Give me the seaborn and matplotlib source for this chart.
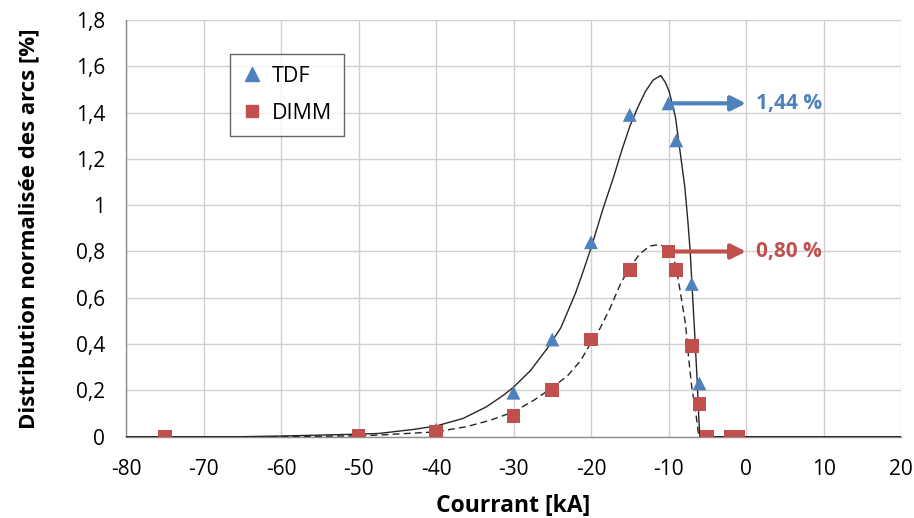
import matplotlib
matplotlib.use("Agg")
import matplotlib.pyplot as plt
from matplotlib.lines import Line2D
import seaborn as sns
import pandas as pd

# ---- data -------------------------------------------------------------
marker_x = [-75, -50, -40, -30, -25, -20, -15, -10, -9, -7, -6, -5, -2, -1]
tdf_y = [0, 0, 0.03, 0.19, 0.42, 0.84, 1.39, 1.44, 1.28, 0.66, 0.23, 0, 0, 0]
dimm_y = [0, 0.005, 0.02, 0.09, 0.20, 0.42, 0.72, 0.80, 0.72, 0.39, 0.14, 0, 0, 0]

tdf_curve_x = [-80, -70, -65, -60, -55, -50, -47.4, -43, -40, -36.5, -33.5, -31.3,
               -30, -27.8, -25.7, -23.9, -22, -21, -20, -18.4, -17.1, -16, -15,
               -14, -13, -12, -11, -10.4, -9.9, -9.1, -8.5, -7.9, -7.5, -7.2,
               -7.0, -6.64, -6.3, -6.1, -5.95, 0, 20]
tdf_curve_y = [0, 0, 0, 0.003, 0.007, 0.011, 0.014, 0.031, 0.046, 0.079, 0.129,
               0.179, 0.214, 0.286, 0.379, 0.47, 0.62, 0.715, 0.815, 0.99, 1.12,
               1.24, 1.34, 1.42, 1.49, 1.54, 1.56, 1.53, 1.49, 1.38, 1.23, 1.08,
               0.93, 0.80, 0.673, 0.458, 0.243, 0.086, 0, 0, 0]

dimm_curve_x = [-80, -70, -60, -55, -50, -47.4, -40, -36.1, -33, -30, -27.4, -25.2,
                -23, -21.3, -20, -18.8, -17.5, -16.2, -15, -13.7, -12.4, -11.1, -10,
                -9.1, -8.5, -7.8, -7.4, -7.0, -6.6, -6.3, -6.1, 0, 20]
dimm_curve_y = [0, 0, 0, 0.002, 0.004, 0.007, 0.021, 0.043, 0.071, 0.107, 0.157,
                0.207, 0.264, 0.33, 0.407, 0.47, 0.558, 0.66, 0.73, 0.79, 0.824,
                0.83, 0.81, 0.745, 0.63, 0.486, 0.34, 0.214, 0.13, 0.058, 0, 0, 0]

series = ["TDF", "DIMM"]
annot_values = [1.44, 0.80]
annot_labels = ["1,44 %", "0,80 %"]
annot_start_x = -10
annot_end_x = 0

x_ticks = list(range(-80, 21, 10))
y_ticks = [0, 0.2, 0.4, 0.6, 0.8, 1.0, 1.2, 1.4, 1.6, 1.8]
y_tick_labels = ["0", "0,2", "0,4", "0,6", "0,8", "1", "1,2", "1,4", "1,6", "1,8"]

# ---- style ------------------------------------------------------------
sns.set_theme(style="white")
plt.rcParams["font.family"] = ["Open Sans", "DejaVu Sans"]
plt.rcParams["text.color"] = "black"
plt.rcParams["axes.labelcolor"] = "black"

blue = "#4F81BD"
red = "#C0504D"

fig = plt.figure(figsize=(9.14, 5.18), dpi=100)
ax = fig.add_axes([126 / 914, 1 - 436.7 / 518, 775 / 914, 416.7 / 518])

curves = pd.DataFrame({"x": tdf_curve_x, "y": tdf_curve_y})
sns.lineplot(data=curves, x="x", y="y", ax=ax, color="#262626", lw=1.0,
             sort=False, estimator=None, zorder=3)
curves2 = pd.DataFrame({"x": dimm_curve_x, "y": dimm_curve_y})
sns.lineplot(data=curves2, x="x", y="y", ax=ax, color="#262626", lw=1.0,
             sort=False, estimator=None, zorder=3)
ax.lines[-1].set_linestyle((0, (5, 3)))

markers = pd.DataFrame({
    "x": marker_x + marker_x,
    "y": tdf_y + dimm_y,
    "serie": [series[0]] * len(marker_x) + [series[1]] * len(marker_x),
})
sns.scatterplot(data=markers, x="x", y="y", hue="serie", style="serie",
                markers={"TDF": "^", "DIMM": "s"}, palette={"TDF": blue, "DIMM": red},
                s=100, linewidth=0, ax=ax, zorder=4, legend=False)

# arrows and labels
for val, lab, col in zip(annot_values, annot_labels, [blue, red]):
    ax.annotate("", xy=(annot_end_x, val), xytext=(annot_start_x, val),
                arrowprops=dict(arrowstyle="-|>", color=col, lw=3,
                                mutation_scale=22, shrinkA=0, shrinkB=0),
                zorder=5)
    ax.text(annot_end_x + 1.3, val, lab, color=col, fontsize=15,
            fontweight="bold", ha="left", va="center")

# axes
ax.set_xlim(-80, 20)
ax.set_ylim(0, 1.8)
ax.set_xticks(x_ticks)
ax.set_xticklabels([str(t) for t in x_ticks])
ax.set_yticks(y_ticks)
ax.set_yticklabels(y_tick_labels)
ax.grid(True, color="#d0d0d0", lw=1.0)
ax.set_axisbelow(True)
for s in ["top", "right"]:
    ax.spines[s].set_visible(False)
for s in ["left", "bottom"]:
    ax.spines[s].set_color("#8c8c8c")
    ax.spines[s].set_linewidth(1.0)
ax.tick_params(axis="both", which="major", direction="out", length=6, width=1,
               color="#8c8c8c", labelsize=15, labelcolor="#000000")
ax.tick_params(axis="y", pad=9)
ax.tick_params(axis="x", pad=10)
ax.set_xlabel("Courrant [kA]", fontsize=16.5, fontweight="bold", labelpad=10)
ax.set_ylabel("Distribution normalisée des arcs [%]", fontsize=16,
              fontweight="bold", labelpad=26)

# legend
handles = [
    Line2D([], [], marker="^", color=blue, linestyle="none", markersize=10),
    Line2D([], [], marker="s", color=red, linestyle="none", markersize=8),
]
leg = ax.legend(handles, series, loc="upper left",
                bbox_to_anchor=((230 - 126) / 775, (436.7 - 54) / 416.7),
                borderaxespad=0, frameon=True, fancybox=False, fontsize=15.5,
                labelspacing=0.75, handlelength=0.9, handletextpad=0.5,
                borderpad=0.55)
leg.get_frame().set_edgecolor("#404040")
leg.get_frame().set_linewidth(1.0)

fig.savefig("out.png", dpi=100)
